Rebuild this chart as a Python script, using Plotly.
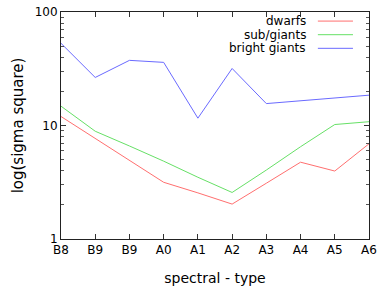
import plotly.graph_objects as go

categories = ["B8", "B9", "B9", "A0", "A1", "A2", "A3", "A4", "A5", "A6"]
positions = list(range(len(categories)))
dwarfs = [12.0, 7.7, 4.9, 3.16, 2.55, 2.03, 3.1, 4.75, 3.97, 6.9]
sub_giants = [14.8, 8.9, 6.6, 4.85, 3.5, 2.57, 4.05, 6.5, 10.2, 10.8]
bright_giants = [53.0, 26.5, 37.5, 36.0, 11.6, 31.8, 15.6, 16.5, 17.5, 18.5]

names = ["dwarfs", "sub/giants", "bright giants"]
colors = ["#ff6f6f", "#66e066", "#6a6aff"]
series = [dwarfs, sub_giants, bright_giants]

FONT = "DejaVu Sans, Verdana, sans-serif"

fig = go.Figure()
for name, vals, col in zip(names, series, colors):
    fig.add_trace(go.Scatter(x=positions, y=vals, mode="lines", name=name,
                             line=dict(color=col, width=1), showlegend=False))

# gnuplot-style legend: text right-aligned, sample line on the right
legend_y = [0.960, 0.900, 0.840]
for name, col, yy in zip(names, colors, legend_y):
    fig.add_annotation(x=0.802, y=yy, xref="paper", yref="paper", text=name,
                       showarrow=False, xanchor="right", yanchor="middle",
                       font=dict(family=FONT, size=12, color="black"))
    fig.add_shape(type="line", xref="paper", yref="paper",
                  x0=0.834, x1=0.948, y0=yy, y1=yy,
                  line=dict(color=col, width=1))

fig.update_layout(
    width=388, height=291,
    margin=dict(l=61, r=19, t=12, b=52, autoexpand=False),
    paper_bgcolor="white", plot_bgcolor="white",
    font=dict(family=FONT, size=12, color="black"),
)
fig.update_xaxes(
    range=[0, 9], tickvals=positions, ticktext=categories,
    ticks="inside", ticklen=5, tickcolor="#333",
    showline=True, linecolor="#222", linewidth=1, mirror="ticks",
    showgrid=False, zeroline=False, automargin=False,
    title=dict(text="spectral - type", font=dict(size=14), standoff=16),
    tickfont=dict(size=12),
)
fig.update_yaxes(
    type="log", range=[0, 2], dtick=1,
    ticks="inside", ticklen=5, tickcolor="#333",
    minor=dict(ticks="inside", ticklen=3, dtick="D1", tickcolor="#555"),
    showline=True, linecolor="#222", linewidth=1, mirror="ticks",
    showgrid=False, zeroline=False, automargin=False,
    title=dict(text="log(sigma square)", font=dict(size=15), standoff=7),
    tickfont=dict(size=12),
)

fig.write_html("out.html",
               config={"displayModeBar": False},
               post_script="document.body.style.margin='0';document.body.style.padding='0';")
